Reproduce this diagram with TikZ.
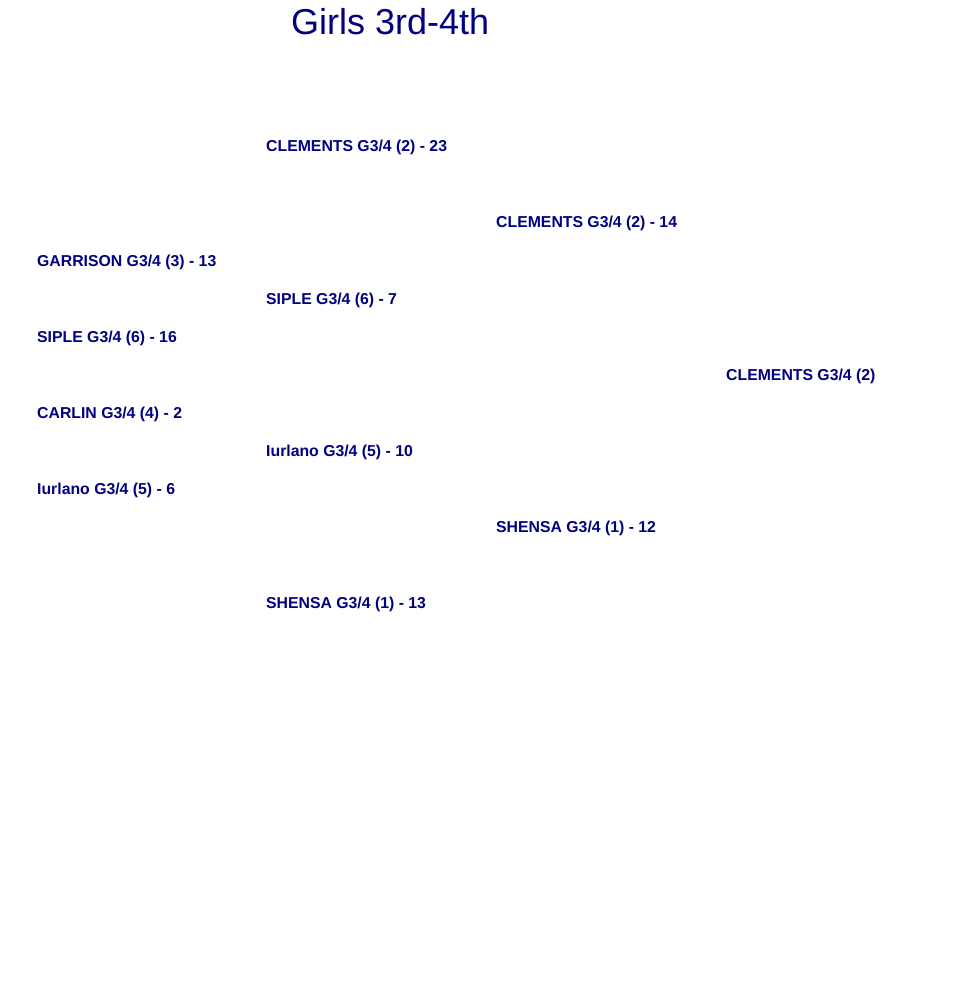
\documentclass[tikz,border=0pt]{standalone}
\usepackage{fontspec}
\setmainfont{Liberation Sans}
\usetikzlibrary{positioning}
\definecolor{bracket-navy}{HTML}{000080}
\tikzset{
  team-slot/.style={anchor=base west, inner sep=0pt, text=bracket-navy,
    font=\fontsize{15.8}{18}\selectfont\bfseries},
  bracket-title/.style={anchor=base west, inner sep=0pt, text=bracket-navy,
    font=\fontsize{36}{40}\selectfont},
}
% one slot of the bracket: name, column x, row, text
\newcommand{\bracketslot}[4]{%
\node[team-slot] (#1) at (#2, #3*38) {#4};
}
\begin{document}
\begin{tikzpicture}[x=1pt, y=-1pt]
\useasboundingbox (0,0) rectangle (953,1000);
\node[bracket-title] (title) at (291,35) {Girls 3rd-4th};
% first round
\bracketslot{garrison}{37}{7}{GARRISON G3/4 (3) - 13}
\bracketslot{siple-a}{37}{9}{SIPLE G3/4 (6) - 16}
\bracketslot{carlin}{37}{11}{CARLIN G3/4 (4) - 2}
\bracketslot{iurlano-a}{37}{13}{Iurlano G3/4 (5) - 6}
% second round
\bracketslot{clements-a}{266}{4}{CLEMENTS G3/4 (2) - 23}
\bracketslot{siple-b}{266}{8}{SIPLE G3/4 (6) - 7}
\bracketslot{iurlano-b}{266}{12}{Iurlano G3/4 (5) - 10}
\bracketslot{shensa-a}{266}{16}{SHENSA G3/4 (1) - 13}
% semifinal
\bracketslot{clements-b}{496}{6}{CLEMENTS G3/4 (2) - 14}
\bracketslot{shensa-b}{496}{14}{SHENSA G3/4 (1) - 12}
% winner
\bracketslot{winner}{726}{10}{CLEMENTS G3/4 (2)}
\end{tikzpicture}
\end{document}
